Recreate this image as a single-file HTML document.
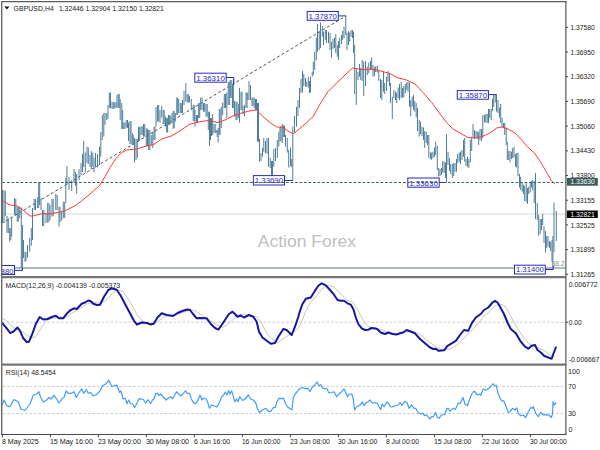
<!DOCTYPE html>
<html><head><meta charset="utf-8"><title>GBPUSD H4</title>
<style>
html,body{margin:0;padding:0;background:#fff;}
body{width:600px;height:450px;overflow:hidden;position:relative;font-family:"Liberation Sans", sans-serif;}
</style></head><body>
<svg width="600" height="450" viewBox="0 0 600 450" style="position:absolute;left:0;top:0">
<rect width="600" height="450" fill="#fff"/>
<line x1="2" y1="214" x2="565.8" y2="214" stroke="#dadada" stroke-width="1.2"/>
<line x1="2" y1="267.9" x2="565.8" y2="267.9" stroke="#8fa6a6" stroke-width="1.5"/>
<line x1="2.5" y1="223" x2="345" y2="16.5" stroke="#505050" stroke-width="1.0" stroke-dasharray="2.9,2.384" stroke-dashoffset="1.6"/>
<path d="M2.5 190.0V223.0M4.0 190.0V223.0M5.3 191.0V216.0M7.0 216.0V233.0M8.3 218.0V233.0M9.7 228.0V241.7M10.8 228.0V240.0M11.7 216.7V236.7M14.5 198.0V215.0M15.8 199.0V215.0M17.2 206.7V221.7M18.3 206.7V221.7M19.7 206.7V218.3M21.3 207.5V268.0M22.4 225.0V270.0M23.5 240.0V258.0M25.0 251.7V261.7M26.0 252.0V261.0M27.5 245.0V257.5M29.7 238.0V251.7M31.3 228.0V245.8M32.5 208.0V240.0M34.2 199.0V210.0M35.5 199.0V210.0M37.7 197.0V208.0M38.7 182.5V208.0M39.7 183.0V205.0M41.0 198.0V210.0M42.5 210.0V226.0M43.8 210.0V226.0M46.0 213.0V223.0M47.7 203.0V222.5M49.0 203.0V222.0M50.0 205.0V220.0M52.0 199.0V216.7M53.2 199.0V216.0M55.8 194.0V210.0M57.2 195.0V210.0M59.0 206.7V226.7M60.0 207.0V222.0M61.7 211.7V220.8M63.3 201.7V218.3M64.7 202.0V218.0M65.8 178.0V203.0M66.9 166.0V185.0M69.0 176.7V190.0M71.7 180.0V191.0M74.0 169.0V183.0M75.5 172.0V186.0M76.7 174.0V193.7M79.0 169.0V180.0M81.0 163.0V175.0M82.5 154.0V172.0M83.7 141.0V167.0M85.3 152.5V172.5M87.0 146.7V163.0M88.3 147.5V164.0M90.0 155.0V167.0M91.3 151.0V169.0M92.8 152.5V166.7M94.0 157.5V172.5M95.5 153.0V167.5M97.5 154.0V167.5M99.5 146.7V165.0M100.8 132.0V156.7M102.3 115.0V140.0M103.8 113.0V136.7M105.0 113.0V125.0M106.7 113.0V120.0M108.0 105.0V119.0M109.3 92.5V108.0M110.5 92.5V108.0M112.0 101.7V109.0M113.3 102.0V109.0M114.7 102.5V108.3M116.0 102.0V108.0M117.0 95.0V107.5M118.3 94.0V108.0M119.2 94.0V108.0M120.2 99.0V120.0M121.8 103.0V129.0M122.7 110.0V129.0M123.8 122.5V129.0M125.0 122.5V129.0M126.2 120.0V127.5M127.5 120.0V128.0M128.5 122.5V141.0M130.0 121.0V144.0M131.0 121.0V144.0M132.3 133.0V145.0M133.3 135.0V145.0M134.5 138.0V162.5M136.0 139.0V160.0M137.3 139.0V158.0M138.5 127.0V141.7M139.7 126.7V141.0M141.0 126.7V135.0M142.2 126.0V135.0M143.5 124.0V136.7M144.7 124.0V136.7M146.3 128.0V146.7M147.5 129.0V146.0M148.7 130.0V150.0M149.8 130.0V150.0M151.3 135.0V145.0M152.8 131.7V148.0M154.0 126.7V140.0M155.0 126.7V140.0M156.0 106.7V126.7M157.6 105.0V121.7M158.7 105.0V121.7M160.0 110.0V122.5M161.7 105.8V117.5M163.2 110.0V124.0M164.2 110.0V124.0M165.5 116.7V126.7M166.7 118.0V132.5M167.6 118.0V132.5M168.5 115.0V125.0M169.7 115.0V125.0M170.8 116.0V124.0M172.0 113.0V123.0M173.2 111.0V129.0M174.2 111.0V128.0M175.3 113.0V121.7M176.8 97.5V115.0M177.7 97.5V115.0M178.7 99.0V113.0M180.3 103.0V113.0M181.3 103.0V113.0M182.5 100.0V113.0M184.0 91.0V105.0M185.8 83.0V101.7M187.2 94.0V102.5M188.3 94.0V102.5M189.5 96.0V102.5M191.3 99.0V110.0M193.2 105.0V121.0M194.2 105.0V121.0M195.0 110.0V126.7M196.5 115.0V122.5M197.5 115.0V122.5M198.7 103.0V118.0M199.7 103.0V118.0M200.7 97.5V110.0M202.0 97.5V110.0M203.5 103.0V111.7M204.7 103.0V111.7M206.0 104.0V116.7M207.2 104.0V116.7M208.3 111.7V130.0M209.5 111.7V146.0M210.5 118.0V140.0M211.5 118.0V136.0M212.7 114.0V135.0M214.0 124.0V133.0M215.2 124.0V133.0M216.2 130.0V133.0M217.2 130.0V137.0M218.2 128.0V142.5M219.3 109.0V135.0M220.0 109.0V135.0M221.3 106.7V128.0M222.7 102.5V115.0M224.3 94.0V108.0M225.5 94.0V108.0M226.8 92.5V118.0M228.2 81.7V105.0M229.3 81.7V105.0M230.3 80.0V98.0M231.2 80.0V98.0M232.5 84.0V108.0M233.3 79.0V108.0M234.5 101.0V116.7M236.0 101.7V120.0M237.0 101.7V120.0M238.3 104.0V118.0M239.5 88.0V122.5M241.0 91.7V110.0M242.0 91.7V110.0M243.0 106.0V114.0M244.5 105.0V116.0M246.0 92.5V108.0M247.0 92.5V108.0M247.8 93.0V100.0M249.0 81.0V100.0M250.5 85.0V100.0M252.0 97.5V106.0M253.0 97.5V106.0M254.2 97.5V108.0M255.5 99.0V110.0M256.5 99.0V110.0M257.5 103.0V141.7M258.5 103.0V141.7M259.5 139.0V161.7M261.0 153.0V161.0M262.5 148.0V156.7M263.8 138.0V151.7M265.5 141.0V153.0M267.0 138.0V154.0M268.5 138.0V166.7M270.2 157.5V168.0M271.5 161.0V175.0M272.5 161.0V175.0M273.8 149.0V166.7M275.5 148.0V161.0M277.3 140.0V158.0M278.8 131.7V146.7M280.0 128.0V141.7M281.0 126.0V141.0M282.3 124.0V143.0M283.7 125.0V137.0M284.5 126.0V137.0M285.5 135.0V146.7M287.3 138.0V152.5M288.7 150.0V167.5M290.5 147.5V166.0M291.7 159.0V167.0M292.8 126.7V180.5M294.5 116.0V133.0M296.5 106.7V126.7M298.0 100.0V116.0M299.5 88.0V108.0M301.0 79.0V93.0M302.5 71.0V92.5M303.8 74.0V86.0M305.5 78.0V86.7M306.8 81.7V86.7M308.3 76.7V87.5M309.5 81.0V93.0M310.5 76.7V92.5M312.2 71.7V76.7M313.3 61.7V75.0M314.7 51.7V70.0M316.3 38.0V60.0M317.5 24.0V51.7M319.2 31.0V50.0M320.5 22.5V48.0M322.3 26.0V36.7M323.5 31.7V45.0M325.3 30.0V40.0M326.5 30.0V43.0M328.5 31.7V43.0M330.0 33.0V50.0M331.5 41.7V57.5M333.0 39.0V49.0M334.5 37.5V48.0M335.8 34.0V53.0M337.3 45.0V56.7M338.5 41.0V60.0M339.7 37.5V48.0M341.5 35.0V44.0M342.7 31.0V40.0M344.0 26.7V38.0M345.8 16.0V35.0M347.0 32.5V50.0M348.5 31.0V45.0M349.7 32.5V41.7M351.0 30.0V36.7M352.5 30.0V38.0M353.5 31.7V53.0M354.7 45.0V94.0M356.3 68.0V105.0M358.0 72.0V80.0M359.5 64.0V76.7M360.7 68.0V80.0M362.2 60.0V81.0M363.7 61.7V96.0M365.5 61.0V86.0M367.3 66.7V75.0M368.8 62.5V73.0M370.5 60.8V70.0M371.7 57.5V70.0M373.0 65.0V76.7M374.5 67.5V76.0M375.7 66.0V72.0M377.3 65.8V72.5M378.8 70.0V81.0M380.5 79.0V98.0M381.8 80.0V100.0M383.5 71.7V91.7M384.7 83.0V94.0M386.5 76.7V91.0M388.0 71.0V81.7M389.5 73.0V86.0M390.5 83.0V103.0M392.3 96.7V119.0M393.8 90.0V98.0M395.5 91.7V100.0M396.7 92.5V103.0M398.2 87.5V98.0M399.5 84.0V100.0M401.2 81.7V98.0M402.5 88.0V97.5M403.8 86.0V97.5M405.3 84.0V93.0M406.7 82.5V90.0M408.0 81.7V91.7M409.5 82.5V106.7M410.7 100.0V116.0M412.2 96.7V106.7M413.5 95.0V110.0M414.8 101.0V111.7M416.2 103.0V117.5M417.5 108.0V131.0M419.2 120.0V136.7M420.5 121.7V134.0M422.0 126.7V136.0M423.5 127.5V140.0M424.7 131.0V148.0M426.2 131.7V143.0M427.5 135.0V145.0M428.8 135.0V158.0M430.5 152.5V159.0M431.7 152.5V160.0M433.0 151.7V158.0M434.5 147.5V156.7M435.7 141.7V155.0M437.3 146.0V170.0M438.7 168.0V176.7M440.0 169.0V176.0M441.5 168.0V175.0M442.7 161.0V172.5M444.2 161.7V173.0M445.5 162.5V178.0M446.5 134.0V182.5M448.0 151.7V165.0M449.5 158.0V171.0M450.7 164.0V174.0M452.3 164.0V178.0M453.7 163.0V176.0M455.0 163.0V171.7M456.5 159.0V171.7M457.7 154.0V163.0M459.2 152.5V161.7M460.5 151.7V164.0M462.0 150.0V160.0M463.5 140.0V156.7M464.7 138.0V161.7M466.0 159.0V166.0M467.5 156.7V166.7M468.8 159.0V168.0M470.3 140.0V162.5M471.7 136.7V151.0M473.0 124.0V137.5M474.5 130.0V139.0M476.0 131.0V138.0M477.3 131.7V139.0M478.7 131.7V145.0M480.0 129.0V140.0M481.5 129.0V141.0M482.8 115.0V138.0M484.5 115.0V122.5M485.8 114.0V122.5M487.2 114.0V123.0M488.5 109.0V123.0M489.7 109.0V118.0M491.2 109.0V120.0M492.5 99.0V111.0M493.7 95.0V106.7M495.2 94.0V102.5M496.5 94.0V111.7M498.0 100.0V113.0M499.5 107.5V117.5M500.7 104.0V123.0M502.0 117.5V127.5M503.5 123.0V128.0M504.7 123.0V135.0M506.2 127.5V145.0M507.3 141.7V160.0M508.7 150.8V160.0M510.0 151.0V162.5M511.5 151.7V159.0M512.7 148.0V158.0M514.0 146.7V157.5M515.5 154.0V166.7M516.7 153.0V167.5M518.0 152.5V176.0M519.5 174.0V187.5M520.7 176.7V190.0M522.2 183.0V191.7M523.5 185.0V194.0M524.7 186.0V201.0M526.2 182.5V202.0M527.5 188.0V204.0M528.7 186.7V194.0M530.2 182.5V192.5M531.5 181.0V187.5M532.7 180.0V190.0M534.2 181.0V203.0M535.5 173.0V219.0M537.3 203.0V220.0M538.7 215.0V235.8M540.2 219.0V234.0M541.5 219.0V230.0M542.7 214.0V225.0M544.0 226.0V243.0M545.5 231.0V252.5M546.7 236.0V248.0M548.0 236.0V246.7M549.5 241.0V248.0M550.7 241.7V251.0M552.0 240.0V261.7M552.9 236.0V267.5M554.0 202.5V252.0M556.3 211.0V241.0" stroke="#4f7e9b" stroke-width="1.0" fill="none"/>
<polyline points="2.5,200.8 10.0,205.0 16.7,205.8 21.7,209.0 30.0,216.0 33.0,216.0 41.7,213.7 50.0,213.8 58.0,212.5 66.7,210.0 75.0,205.8 81.7,200.8 90.0,194.0 100.0,185.0 105.0,176.7 110.0,167.5 116.7,157.5 121.7,152.5 126.7,150.0 136.7,149.0 146.7,145.8 153.0,145.0 161.7,139.0 171.7,135.8 180.0,130.8 190.0,124.0 195.0,123.0 200.0,121.7 208.0,120.5 218.0,122.5 225.0,120.0 233.0,115.8 241.7,113.0 250.0,110.8 256.7,110.0 263.0,116.7 270.0,122.5 276.7,127.0 283.0,127.5 288.0,131.0 293.0,133.8 298.0,130.0 306.7,122.5 313.0,116.7 320.0,104.0 328.0,91.7 336.7,83.0 345.0,75.0 352.5,68.0 363.0,69.7 371.7,69.0 380.0,70.8 390.0,73.5 396.7,77.5 406.7,80.0 415.0,84.0 423.0,92.5 431.7,102.5 440.0,114.0 446.7,122.5 453.0,129.0 460.0,133.0 468.0,137.5 475.0,138.0 481.7,136.7 490.0,133.0 496.7,128.0 501.7,127.0 508.0,129.0 515.0,133.0 521.7,140.0 528.0,147.5 534.0,152.5 540.0,161.0 546.7,172.5 551.7,181.0 555.3,184.0" fill="none" stroke="#ff3a3a" stroke-width="1" stroke-linejoin="round"/>
<text x="257.7" y="246.8" font-family='"Liberation Sans", sans-serif' font-size="16.8" fill="#c0c0c0" textLength="98.4" lengthAdjust="spacingAndGlyphs">Action Forex</text>
<text x="551.6" y="266.2" font-family='"Liberation Sans", sans-serif' font-size="6.7" fill="#7c8c8c">38.2</text>
<rect x="194.8" y="73.2" width="31.4" height="9.0" fill="#fff" stroke="#2a2ab8" stroke-width="1"/>
<text x="210.5" y="80.7" font-family='"Liberation Sans", sans-serif' font-size="8.0" fill="#2a2ab8" text-anchor="middle" textLength="28.6" lengthAdjust="spacingAndGlyphs">1.36310</text>
<polyline points="226.2,77.5 233.8,77.5 233.8,85" fill="none" stroke="#2a2ab8" stroke-width="1"/>
<rect x="307.2" y="11.5" width="31.1" height="8.8" fill="#fff" stroke="#2a2ab8" stroke-width="1"/>
<text x="322.7" y="18.8" font-family='"Liberation Sans", sans-serif' font-size="8.0" fill="#2a2ab8" text-anchor="middle" textLength="28.3" lengthAdjust="spacingAndGlyphs">1.37870</text>
<polyline points="338.25,15.9 346.2,15.9" fill="none" stroke="#2a2ab8" stroke-width="1"/>
<rect x="253.4" y="175.6" width="31.1" height="9.4" fill="#fff" stroke="#2a2ab8" stroke-width="1"/>
<text x="268.9" y="183.4" font-family='"Liberation Sans", sans-serif' font-size="8.0" fill="#2a2ab8" text-anchor="middle" textLength="28.3" lengthAdjust="spacingAndGlyphs">1.33690</text>
<polyline points="284.5,180.5 292.8,180.5" fill="none" stroke="#2a2ab8" stroke-width="1"/>
<rect x="407.8" y="178" width="31.4" height="9.2" fill="#fff" stroke="#2a2ab8" stroke-width="1"/>
<text x="423.5" y="185.6" font-family='"Liberation Sans", sans-serif' font-size="8.0" fill="#2a2ab8" text-anchor="middle" textLength="28.6" lengthAdjust="spacingAndGlyphs">1.33630</text>
<polyline points="439.2,182.5 446.5,182.5" fill="none" stroke="#2a2ab8" stroke-width="1"/>
<rect x="457.25" y="90.6" width="31.2" height="8.6" fill="#fff" stroke="#2a2ab8" stroke-width="1"/>
<text x="472.9" y="97.7" font-family='"Liberation Sans", sans-serif' font-size="8.0" fill="#2a2ab8" text-anchor="middle" textLength="28.4" lengthAdjust="spacingAndGlyphs">1.35870</text>
<polyline points="488.5,94.6 496.3,94.6" fill="none" stroke="#2a2ab8" stroke-width="1"/>
<rect x="514.5" y="265.2" width="30.8" height="8.8" fill="#fff" stroke="#2a2ab8" stroke-width="1"/>
<text x="529.9" y="272.4" font-family='"Liberation Sans", sans-serif' font-size="8.0" fill="#2a2ab8" text-anchor="middle" textLength="28.0" lengthAdjust="spacingAndGlyphs">1.31400</text>
<polyline points="545.3,269.5 553.3,269.5 553.3,266" fill="none" stroke="#2a2ab8" stroke-width="1"/>
<rect x="-16.9" y="265.5" width="31.4" height="9" fill="#fff" stroke="#2a2ab8" stroke-width="1"/>
<text x="-0.4" y="273.6" font-family='"Liberation Sans", sans-serif' font-size="7.7" fill="#2a2ab8" text-anchor="middle" textLength="27.9" lengthAdjust="spacingAndGlyphs">1.31880</text>
<polyline points="14.5,270.4 22.4,270.4 22.4,268" fill="none" stroke="#2a2ab8" stroke-width="1"/>
<line x1="2.5" y1="182.5" x2="565.8" y2="182.5" stroke="#3f5f5f" stroke-width="1.1" stroke-dasharray="2.7,1.8"/>
<line x1="2.5" y1="322.2" x2="565.8" y2="322.2" stroke="#cccccc" stroke-width="1.0" stroke-dasharray="2.7,1.8"/>
<polyline points="2.5,318.0 6.7,320.8 13.0,327.5 20.0,330.0 26.7,335.0 31.7,338.0 35.8,336.7 40.0,330.0 45.0,321.7 50.0,318.8 58.0,317.5 66.7,316.7 73.0,312.5 80.0,308.3 86.7,304.0 93.0,302.0 100.0,303.5 106.7,300.0 113.0,292.5 118.0,289.7 123.0,291.7 130.0,301.7 136.7,314.0 143.0,321.7 150.0,323.7 156.7,322.5 163.0,317.5 170.0,315.0 176.7,315.0 183.0,312.5 190.0,310.0 195.0,310.8 200.0,314.0 208.0,319.0 216.7,325.0 223.0,327.5 230.0,322.5 236.7,315.8 243.0,314.0 250.0,315.5 256.7,316.7 261.7,323.0 266.7,333.0 271.7,339.0 278.0,342.5 285.0,337.5 291.7,333.0 296.7,330.0 300.0,325.8 305.0,313.0 310.0,303.0 316.7,295.8 323.0,288.0 328.0,285.3 333.0,286.7 340.0,293.0 346.7,300.0 353.0,302.5 358.0,310.0 363.0,320.0 368.0,326.7 375.0,328.0 381.7,329.7 388.0,332.5 395.0,333.7 400.0,334.0 408.0,331.7 416.7,332.5 423.0,336.7 430.0,342.5 436.7,347.5 443.0,350.0 450.0,349.0 456.7,345.0 463.0,339.0 470.0,332.5 476.7,325.0 483.0,317.5 490.0,310.8 495.0,305.8 500.0,304.0 505.0,305.8 510.0,315.0 515.0,324.0 521.7,335.0 528.0,343.0 536.7,347.5 545.0,350.8 550.0,355.0 555.0,356.7" fill="none" stroke="#c0c0c0" stroke-width="0.9" stroke-linejoin="round"/>
<polyline points="2.5,323.3 6.7,328.3 10.3,333.0 13.3,331.7 17.5,327.5 20.0,330.8 23.3,338.3 26.7,342.0 29.0,341.7 32.5,333.3 35.8,324.0 39.7,317.0 43.3,319.5 47.5,319.0 51.7,317.0 55.8,315.8 59.0,318.3 63.3,318.3 66.7,313.7 70.0,310.5 74.0,308.3 76.7,309.0 81.7,303.8 85.0,302.5 88.3,300.5 90.8,301.3 93.3,303.8 96.7,305.0 100.0,304.7 104.0,296.7 108.3,290.0 111.7,288.3 116.7,289.7 120.8,295.8 125.0,304.0 130.0,313.3 134.0,320.8 137.0,324.5 141.7,322.5 146.7,323.0 150.8,324.5 153.7,323.7 157.5,317.5 161.7,313.3 166.7,315.0 173.0,316.0 177.5,313.0 183.0,310.8 187.5,309.5 190.0,310.0 193.0,314.0 196.7,318.3 200.0,318.0 206.7,318.3 210.8,324.0 215.0,328.0 218.3,329.7 221.7,325.0 225.8,318.7 229.0,314.0 232.5,311.7 235.0,314.0 237.5,316.7 240.8,315.5 244.0,317.5 249.0,315.0 253.3,316.7 256.7,321.7 259.0,331.7 262.5,337.5 266.7,340.8 270.8,343.8 275.0,343.0 278.3,336.7 283.3,329.0 286.7,330.0 291.7,335.0 295.0,326.7 298.3,316.7 300.0,310.8 302.5,304.0 305.8,298.8 310.8,297.5 315.0,290.8 318.3,285.8 321.7,283.3 325.8,285.3 330.0,290.0 334.0,294.7 337.5,300.0 340.8,300.8 344.0,300.8 347.5,303.3 350.8,304.7 353.3,309.0 355.8,317.5 358.3,324.0 361.7,328.3 365.0,330.0 368.3,329.7 371.7,328.0 376.7,328.7 380.8,332.5 385.0,334.0 388.3,332.5 392.5,334.0 396.7,334.5 400.0,333.3 403.0,332.5 406.7,330.0 410.0,331.3 415.0,333.3 420.0,339.0 425.0,343.3 430.0,347.5 433.3,349.0 435.8,348.8 438.3,350.8 444.0,350.3 447.5,345.8 451.7,343.3 455.8,340.8 460.0,335.0 464.0,330.0 468.3,330.8 471.7,323.3 475.8,317.5 480.8,314.0 484.0,310.0 488.3,307.5 492.5,302.5 495.0,300.8 497.5,302.5 500.0,306.7 504.0,314.0 507.5,322.5 510.8,329.0 515.8,333.3 520.8,341.7 525.0,346.7 528.3,348.7 531.7,345.8 535.0,345.0 537.5,350.0 540.8,352.5 544.0,355.8 548.3,357.5 551.7,358.7 553.3,354.0 555.8,347.5" fill="none" stroke="#1616a0" stroke-width="2.0" stroke-linejoin="round" stroke-linecap="round"/>
<line x1="2.5" y1="386.4" x2="565.8" y2="386.4" stroke="#cccccc" stroke-width="1.0" stroke-dasharray="2.7,1.8"/>
<line x1="2.5" y1="413.6" x2="565.8" y2="413.6" stroke="#cccccc" stroke-width="1.0" stroke-dasharray="2.7,1.8"/>
<polyline points="2.0,405.0 4.0,400.0 6.7,405.8 10.0,406.7 14.0,399.5 18.3,401.7 20.8,409.0 25.0,410.5 30.0,404.0 33.3,395.0 36.7,394.0 38.7,391.7 40.8,397.5 43.3,402.0 46.7,400.0 49.0,397.5 50.8,399.0 54.0,395.3 56.7,399.0 59.0,403.0 62.5,398.3 64.0,397.5 66.3,390.8 68.3,393.3 71.7,393.3 74.0,391.7 76.3,397.5 79.0,392.5 81.7,389.0 83.8,393.3 86.3,389.7 88.3,393.3 90.8,392.5 93.0,395.8 96.7,394.5 100.0,390.8 102.5,385.8 105.8,384.0 108.8,380.5 111.7,386.3 114.0,385.8 116.7,385.0 119.7,392.5 121.0,390.8 123.0,399.0 125.3,398.3 127.0,403.7 128.7,400.0 130.3,403.3 132.5,404.0 134.7,407.5 136.7,403.7 139.0,398.7 143.3,399.5 145.8,403.0 148.0,399.7 150.5,403.7 152.5,400.0 154.0,398.8 155.8,393.3 157.5,393.3 158.8,395.5 160.8,394.0 163.3,397.0 166.0,400.0 169.0,397.5 170.8,396.7 172.5,398.7 174.7,395.0 176.7,391.7 178.3,394.0 181.0,395.8 183.3,393.3 185.5,390.8 187.5,393.3 189.7,393.3 191.3,399.0 193.3,402.5 195.0,403.7 197.5,401.3 200.0,395.0 202.0,400.0 203.7,398.0 206.3,399.0 208.0,403.3 209.5,408.3 211.3,405.0 214.0,405.8 217.0,407.0 219.0,403.3 221.7,396.7 223.7,395.0 225.3,392.0 227.0,395.0 228.7,390.5 230.0,394.0 231.7,390.8 233.3,396.7 235.0,401.7 236.7,399.0 238.0,401.7 239.7,396.7 242.5,400.5 245.0,399.0 248.3,395.0 250.8,399.0 253.3,400.0 255.8,403.0 257.5,409.0 259.7,412.5 262.5,410.0 265.8,408.3 268.3,411.3 270.8,411.3 273.3,407.5 275.3,407.5 277.0,401.7 279.0,398.3 281.7,398.7 283.3,398.0 285.0,402.5 287.5,406.7 290.0,408.8 292.0,409.7 293.3,397.5 295.8,393.3 298.3,390.0 300.0,388.5 302.5,387.5 305.0,388.7 308.0,388.3 310.0,391.7 312.0,387.5 315.0,384.7 317.0,382.0 319.0,385.8 320.8,384.7 322.5,388.3 324.7,389.0 326.7,388.3 329.0,393.0 331.7,392.5 334.0,391.7 336.7,396.7 339.0,394.0 341.7,391.7 344.0,389.0 345.8,392.5 347.5,396.7 349.0,394.0 351.7,394.0 353.3,399.0 354.7,410.0 356.7,406.7 360.0,405.0 362.5,402.0 364.0,405.8 365.8,403.0 368.3,401.7 370.0,400.0 372.5,403.3 375.0,402.5 377.5,403.3 379.0,406.7 380.8,409.7 382.0,404.0 384.0,406.7 386.7,402.0 388.3,403.3 390.8,407.0 393.3,406.7 395.8,405.3 398.3,405.0 400.0,402.5 402.0,405.3 404.7,401.3 407.0,402.5 409.0,408.3 411.7,405.0 414.0,408.3 415.8,408.3 418.3,413.0 420.8,414.0 422.5,413.0 424.7,415.5 426.7,415.0 429.7,419.0 431.7,416.7 433.3,416.7 435.5,412.5 437.5,417.5 439.0,418.3 441.3,415.0 444.7,414.7 447.0,408.3 448.7,408.8 450.0,411.3 453.0,408.3 455.3,409.5 458.3,403.0 460.3,403.3 463.0,397.5 465.0,404.0 467.5,405.8 470.0,398.3 471.7,394.0 474.0,391.0 477.5,395.0 479.7,394.0 480.8,395.3 483.3,389.0 485.8,390.3 490.0,387.5 493.0,383.7 494.7,385.8 496.3,385.3 498.0,393.3 500.0,398.0 501.7,400.8 503.7,400.8 505.8,405.8 508.3,412.5 510.0,411.7 512.5,408.3 515.0,410.0 516.7,408.0 518.3,413.3 520.8,415.8 523.3,415.0 525.8,417.5 528.3,411.7 530.8,407.5 532.5,408.3 533.3,406.7 535.8,413.3 538.3,416.7 540.8,412.5 543.3,415.0 546.7,414.7 549.0,415.0 551.3,417.5 552.5,414.0 553.0,401.7 554.0,405.0 556.3,402.5" fill="none" stroke="#3f9dfc" stroke-width="1.2" stroke-linejoin="round"/>
<rect x="0" y="0" width="1" height="450" fill="#fff"/>
<line x1="1" y1="1.65" x2="566.4" y2="1.65" stroke="#5c5c5c" stroke-width="1.2"/>
<line x1="1.7" y1="1" x2="1.7" y2="435" stroke="#6a6a6a" stroke-width="1.4"/>
<line x1="565.9" y1="1" x2="565.9" y2="435" stroke="#4e4e4e" stroke-width="1.15"/>
<line x1="1" y1="277.1" x2="566.4" y2="277.1" stroke="#747474" stroke-width="2.4"/>
<line x1="1" y1="364.6" x2="566.4" y2="364.6" stroke="#747474" stroke-width="2.4"/>
<line x1="1" y1="434.5" x2="566.4" y2="434.5" stroke="#4a4a4a" stroke-width="1.0"/>
<line x1="565.8" y1="27.3" x2="568.0" y2="27.3" stroke="#444" stroke-width="1"/>
<text x="570.4" y="29.9" font-family='"Liberation Sans", sans-serif' font-size="7.1" fill="#222" textLength="24.4" lengthAdjust="spacingAndGlyphs">1.37580</text>
<line x1="565.8" y1="52.0" x2="568.0" y2="52.0" stroke="#444" stroke-width="1"/>
<text x="570.4" y="54.6" font-family='"Liberation Sans", sans-serif' font-size="7.1" fill="#222" textLength="24.4" lengthAdjust="spacingAndGlyphs">1.36950</text>
<line x1="565.8" y1="76.7" x2="568.0" y2="76.7" stroke="#444" stroke-width="1"/>
<text x="570.4" y="79.3" font-family='"Liberation Sans", sans-serif' font-size="7.1" fill="#222" textLength="24.4" lengthAdjust="spacingAndGlyphs">1.36320</text>
<line x1="565.8" y1="101.4" x2="568.0" y2="101.4" stroke="#444" stroke-width="1"/>
<text x="570.4" y="104.0" font-family='"Liberation Sans", sans-serif' font-size="7.1" fill="#222" textLength="24.4" lengthAdjust="spacingAndGlyphs">1.35690</text>
<line x1="565.8" y1="126.1" x2="568.0" y2="126.1" stroke="#444" stroke-width="1"/>
<text x="570.4" y="128.7" font-family='"Liberation Sans", sans-serif' font-size="7.1" fill="#222" textLength="24.4" lengthAdjust="spacingAndGlyphs">1.35060</text>
<line x1="565.8" y1="150.8" x2="568.0" y2="150.8" stroke="#444" stroke-width="1"/>
<text x="570.4" y="153.4" font-family='"Liberation Sans", sans-serif' font-size="7.1" fill="#222" textLength="24.4" lengthAdjust="spacingAndGlyphs">1.34430</text>
<line x1="565.8" y1="175.5" x2="568.0" y2="175.5" stroke="#444" stroke-width="1"/>
<text x="570.4" y="178.1" font-family='"Liberation Sans", sans-serif' font-size="7.1" fill="#222" textLength="24.4" lengthAdjust="spacingAndGlyphs">1.33800</text>
<line x1="565.8" y1="200.2" x2="568.0" y2="200.2" stroke="#444" stroke-width="1"/>
<text x="570.4" y="202.8" font-family='"Liberation Sans", sans-serif' font-size="7.1" fill="#222" textLength="24.4" lengthAdjust="spacingAndGlyphs">1.33155</text>
<line x1="565.8" y1="224.9" x2="568.0" y2="224.9" stroke="#444" stroke-width="1"/>
<text x="570.4" y="227.5" font-family='"Liberation Sans", sans-serif' font-size="7.1" fill="#222" textLength="24.4" lengthAdjust="spacingAndGlyphs">1.32525</text>
<line x1="565.8" y1="249.6" x2="568.0" y2="249.6" stroke="#444" stroke-width="1"/>
<text x="570.4" y="252.2" font-family='"Liberation Sans", sans-serif' font-size="7.1" fill="#222" textLength="24.4" lengthAdjust="spacingAndGlyphs">1.31895</text>
<line x1="565.8" y1="274.3" x2="568.0" y2="274.3" stroke="#444" stroke-width="1"/>
<text x="570.4" y="276.9" font-family='"Liberation Sans", sans-serif' font-size="7.1" fill="#222" textLength="24.4" lengthAdjust="spacingAndGlyphs">1.31265</text>
<rect x="566.9" y="177.9" width="30.9" height="7.8" fill="#3b5a5a"/>
<text x="570.4" y="184.4" font-family='"Liberation Sans", sans-serif' font-size="7.1" fill="#fff" textLength="24.4" lengthAdjust="spacingAndGlyphs">1.33630</text>
<rect x="566.9" y="210.5" width="30.9" height="7.5" fill="#000"/>
<text x="570.4" y="216.9" font-family='"Liberation Sans", sans-serif' font-size="7.1" fill="#fff" textLength="24.4" lengthAdjust="spacingAndGlyphs">1.32821</text>
<text x="568.7" y="287" font-family='"Liberation Sans", sans-serif' font-size="7.1" fill="#222" textLength="29" lengthAdjust="spacingAndGlyphs">0.006772</text>
<line x1="565.8" y1="322.2" x2="568.3" y2="322.2" stroke="#444" stroke-width="1"/>
<text x="568.7" y="325.1" font-family='"Liberation Sans", sans-serif' font-size="7.1" fill="#222" textLength="13" lengthAdjust="spacingAndGlyphs">0.00</text>
<text x="568.7" y="362" font-family='"Liberation Sans", sans-serif' font-size="7.1" fill="#222" textLength="30.6" lengthAdjust="spacingAndGlyphs">-0.006667</text>
<text x="568.0" y="373.5" font-family='"Liberation Sans", sans-serif' font-size="7.1" fill="#222">100</text>
<text x="568.0" y="389.0" font-family='"Liberation Sans", sans-serif' font-size="7.1" fill="#222">70</text>
<text x="568.0" y="416.1" font-family='"Liberation Sans", sans-serif' font-size="7.1" fill="#222">30</text>
<text x="568.6" y="431.8" font-family='"Liberation Sans", sans-serif' font-size="7.1" fill="#222">0</text>
<line x1="2.4" y1="434.5" x2="2.4" y2="437.3" stroke="#444" stroke-width="1"/>
<text x="1.9" y="443.5" font-family='"Liberation Sans", sans-serif' font-size="7.1" fill="#222" textLength="36.8" lengthAdjust="spacingAndGlyphs">8 May 2025</text>
<line x1="50.4" y1="434.5" x2="50.4" y2="437.3" stroke="#444" stroke-width="1"/>
<text x="49.9" y="443.5" font-family='"Liberation Sans", sans-serif' font-size="7.1" fill="#222" textLength="43" lengthAdjust="spacingAndGlyphs">15 May 16:00</text>
<line x1="98.4" y1="434.5" x2="98.4" y2="437.3" stroke="#444" stroke-width="1"/>
<text x="97.9" y="443.5" font-family='"Liberation Sans", sans-serif' font-size="7.1" fill="#222" textLength="43" lengthAdjust="spacingAndGlyphs">23 May 00:00</text>
<line x1="146.4" y1="434.5" x2="146.4" y2="437.3" stroke="#444" stroke-width="1"/>
<text x="145.9" y="443.5" font-family='"Liberation Sans", sans-serif' font-size="7.1" fill="#222" textLength="43.2" lengthAdjust="spacingAndGlyphs">30 May 08:00</text>
<line x1="194.4" y1="434.5" x2="194.4" y2="437.3" stroke="#444" stroke-width="1"/>
<text x="193.9" y="443.5" font-family='"Liberation Sans", sans-serif' font-size="7.1" fill="#222" textLength="36.2" lengthAdjust="spacingAndGlyphs">6 Jun 16:00</text>
<line x1="242.4" y1="434.5" x2="242.4" y2="437.3" stroke="#444" stroke-width="1"/>
<text x="241.9" y="443.5" font-family='"Liberation Sans", sans-serif' font-size="7.1" fill="#222" textLength="38.5" lengthAdjust="spacingAndGlyphs">16 Jun 00:00</text>
<line x1="290.4" y1="434.5" x2="290.4" y2="437.3" stroke="#444" stroke-width="1"/>
<text x="289.9" y="443.5" font-family='"Liberation Sans", sans-serif' font-size="7.1" fill="#222" textLength="40" lengthAdjust="spacingAndGlyphs">23 Jun 08:00</text>
<line x1="338.4" y1="434.5" x2="338.4" y2="437.3" stroke="#444" stroke-width="1"/>
<text x="337.9" y="443.5" font-family='"Liberation Sans", sans-serif' font-size="7.1" fill="#222" textLength="39.5" lengthAdjust="spacingAndGlyphs">30 Jun 16:00</text>
<line x1="386.4" y1="434.5" x2="386.4" y2="437.3" stroke="#444" stroke-width="1"/>
<text x="385.9" y="443.5" font-family='"Liberation Sans", sans-serif' font-size="7.1" fill="#222" textLength="33.2" lengthAdjust="spacingAndGlyphs">8 Jul 00:00</text>
<line x1="434.4" y1="434.5" x2="434.4" y2="437.3" stroke="#444" stroke-width="1"/>
<text x="433.9" y="443.5" font-family='"Liberation Sans", sans-serif' font-size="7.1" fill="#222" textLength="37.5" lengthAdjust="spacingAndGlyphs">15 Jul 08:00</text>
<line x1="482.4" y1="434.5" x2="482.4" y2="437.3" stroke="#444" stroke-width="1"/>
<text x="481.9" y="443.5" font-family='"Liberation Sans", sans-serif' font-size="7.1" fill="#222" textLength="37" lengthAdjust="spacingAndGlyphs">22 Jul 16:00</text>
<line x1="530.4" y1="434.5" x2="530.4" y2="437.3" stroke="#444" stroke-width="1"/>
<text x="529.9" y="443.5" font-family='"Liberation Sans", sans-serif' font-size="7.1" fill="#222" textLength="37" lengthAdjust="spacingAndGlyphs">30 Jul 00:00</text>
<path d="M4.3 6.4h5.2l-2.6 3.2z" fill="#111"/>
<text x="13.6" y="10.5" font-family='"Liberation Sans", sans-serif' font-size="7.1" fill="#222" textLength="40.2" lengthAdjust="spacingAndGlyphs">GBPUSD,H4</text>
<text x="58.9" y="10.5" font-family='"Liberation Sans", sans-serif' font-size="7.1" fill="#222" textLength="104.8" lengthAdjust="spacingAndGlyphs">1.32446 1.32904 1.32150 1.32821</text>
<text x="5.6" y="287.7" font-family='"Liberation Sans", sans-serif' font-size="7.1" fill="#222" textLength="114.5" lengthAdjust="spacingAndGlyphs">MACD(12,26,9) -0.004139 -0.005373</text>
<text x="5.8" y="375.1" font-family='"Liberation Sans", sans-serif' font-size="7.1" fill="#222" textLength="50" lengthAdjust="spacingAndGlyphs">RSI(14) 48.5454</text>
</svg>
</body></html>
